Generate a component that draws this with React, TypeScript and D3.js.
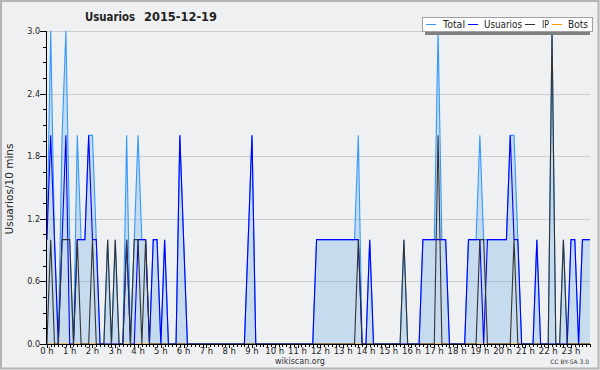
import React from "react";
import * as d3 from "d3";

// 10-minute slots, 0h00 .. 23h50 (144 slots)
const totalValues = [
  1, 3, 1, 0, 2, 3, 1, 0, 2, 1, 1, 2,
  2, 1, 0, 0, 1, 0, 1, 0, 0, 2, 0, 1,
  2, 1, 1, 0, 1, 1, 0, 1, 0, 0, 0, 2,
  1, 0, 0, 0, 0, 0, 0, 0, 0, 0, 0, 0,
  0, 0, 0, 0, 0, 1, 2, 0, 0, 0, 0, 0,
  0, 0, 0, 0, 0, 0, 0, 0, 0, 0, 0, 1,
  1, 1, 1, 1, 1, 1, 1, 1, 1, 1, 2, 0,
  0, 1, 0, 0, 0, 0, 0, 0, 0, 0, 1, 0,
  0, 0, 0, 1, 1, 1, 1, 3, 1, 1, 0, 0,
  0, 0, 0, 1, 1, 1, 2, 1, 1, 1, 1, 1,
  1, 1, 2, 2, 1, 0, 0, 0, 0, 1, 0, 0,
  0, 3, 0, 0, 1, 0, 1, 1, 0, 1, 1, 1,
];

const userValues = [
  1, 2, 1, 0, 1, 2, 0, 0, 1, 1, 1, 2,
  1, 1, 0, 0, 0, 0, 0, 0, 0, 1, 0, 0,
  1, 1, 1, 0, 1, 1, 0, 1, 0, 0, 0, 2,
  1, 0, 0, 0, 0, 0, 0, 0, 0, 0, 0, 0,
  0, 0, 0, 0, 0, 1, 2, 0, 0, 0, 0, 0,
  0, 0, 0, 0, 0, 0, 0, 0, 0, 0, 0, 1,
  1, 1, 1, 1, 1, 1, 1, 1, 1, 1, 1, 0,
  0, 1, 0, 0, 0, 0, 0, 0, 0, 0, 0, 0,
  0, 0, 0, 1, 1, 1, 1, 1, 1, 1, 0, 0,
  0, 0, 0, 1, 1, 1, 1, 0, 1, 1, 1, 1,
  1, 1, 2, 1, 1, 0, 0, 0, 0, 1, 0, 0,
  0, 0, 0, 0, 0, 0, 1, 1, 0, 1, 1, 1,
];

const ipValues = [
  0, 1, 0, 0, 1, 1, 1, 0, 1, 0, 0, 0,
  1, 0, 0, 0, 1, 0, 1, 0, 0, 1, 0, 1,
  1, 0, 1, 0, 0, 0, 0, 0, 0, 0, 0, 0,
  0, 0, 0, 0, 0, 0, 0, 0, 0, 0, 0, 0,
  0, 0, 0, 0, 0, 0, 0, 0, 0, 0, 0, 0,
  0, 0, 0, 0, 0, 0, 0, 0, 0, 0, 0, 0,
  0, 0, 0, 0, 0, 0, 0, 0, 0, 0, 1, 0,
  0, 0, 0, 0, 0, 0, 0, 0, 0, 0, 1, 0,
  0, 0, 0, 0, 0, 0, 0, 2, 0, 0, 0, 0,
  0, 0, 0, 0, 0, 0, 1, 1, 0, 0, 0, 0,
  0, 0, 0, 1, 0, 0, 0, 0, 0, 0, 0, 0,
  0, 3, 0, 0, 1, 0, 0, 0, 0, 0, 0, 0,
];

const botValues = [
  0, 0, 0, 0, 0, 0, 0, 0, 0, 0, 0, 0,
  0, 0, 0, 0, 0, 0, 0, 0, 0, 0, 0, 0,
  0, 0, 0, 0, 0, 0, 0, 0, 0, 0, 0, 0,
  0, 0, 0, 0, 0, 0, 0, 0, 0, 0, 0, 0,
  0, 0, 0, 0, 0, 0, 0, 0, 0, 0, 0, 0,
  0, 0, 0, 0, 0, 0, 0, 0, 0, 0, 0, 0,
  0, 0, 0, 0, 0, 0, 0, 0, 0, 0, 0, 0,
  0, 0, 0, 0, 0, 0, 0, 0, 0, 0, 0, 0,
  0, 0, 0, 0, 0, 0, 0, 0, 0, 0, 0, 0,
  0, 0, 0, 0, 0, 0, 0, 0, 0, 0, 0, 0,
  0, 0, 0, 0, 0, 0, 0, 0, 0, 0, 0, 0,
  0, 0, 0, 0, 0, 0, 0, 0, 0, 0, 0, 0,
];

const hourLabels = [
  "0 h", "1 h", "2 h", "3 h", "4 h", "5 h", "6 h", "7 h", "8 h", "9 h", "10 h", "11 h",
  "12 h", "13 h", "14 h", "15 h", "16 h", "17 h", "18 h", "19 h", "20 h", "21 h", "22 h", "23 h",
];

const yTickValues = [0, 0.6, 1.2, 1.8, 2.4, 3.0];
const yMinorStep = 0.15;

const legendItems = [
  { label: "Total", color: "#3399ff" },
  { label: "Usuarios", color: "#0000ff" },
  { label: "IP", color: "#333333" },
  { label: "Bots", color: "#ff9900" },
];

const W = 600;
const H = 370;
const PL = 46;
const PR = 590;
const PT = 31;
const PB = 344;
const FONT = "'DejaVu Sans', sans-serif";

export default function App() {
  const n = totalValues.length;
  const x = d3.scaleLinear().domain([0, n - 1]).range([PL + 0.9, PR]);
  const y = d3.scaleLinear().domain([0, 3]).range([PB, PT]);

  const line = d3
    .line<number>()
    .x((_, i) => x(i))
    .y((d) => y(d));
  const area = d3
    .area<number>()
    .x((_, i) => x(i))
    .y0(y(0))
    .y1((d) => y(d));

  const minorY = d3.range(0, 3 + 1e-9, yMinorStep);
  const slotTicks = d3.range(0, n);

  const legendX = [426, 468, 525, 552];
  const legendTextX = [443, 484, 542, 568];
  const legendTextW = [22, 38, 7, 20];

  return (
    <svg width={W} height={H} style={{ display: "block" }} fontFamily={FONT}>
      <style>{`body{margin:0;}`}</style>
      <rect x={0} y={0} width={W} height={H} fill="#eff0f1" />
      <rect x={1} y={1} width={W - 2.5} height={H - 2.5} fill="none" stroke="#b4b4b4" strokeWidth={2} />

      {/* title */}
      <text y={21} fontSize={12} fontWeight="bold" fill="#222">
        <tspan x={85} textLength={50} lengthAdjust="spacingAndGlyphs">Usuarios</tspan>
        <tspan x={144} textLength={73} lengthAdjust="spacingAndGlyphs">2015-12-19</tspan>
      </text>

      {/* grid */}
      {yTickValues.slice(1).map((v) => (
        <line key={"g" + v} x1={PL} x2={PR} y1={Math.round(y(v)) + 0.5} y2={Math.round(y(v)) + 0.5} stroke="#cdcdcd" strokeWidth={1} />
      ))}

      {/* series */}
      <path d={area(totalValues) || ""} fill="rgba(40,135,230,0.2)" stroke="none" />
      <path d={line(botValues) || ""} fill="none" stroke="#ff9900" strokeWidth={1.1} />
      <path d={line(totalValues) || ""} fill="none" stroke="#3399ff" strokeWidth={1.1} />
      <path d={line(userValues) || ""} fill="none" stroke="#0000ff" strokeWidth={1.1} />
      <path d={line(ipValues) || ""} fill="none" stroke="#333333" strokeWidth={1.1} />

      {/* axes */}
      <line x1={PL + 0.5} x2={PL + 0.5} y1={PT} y2={PB + 0.5} stroke="#000" />
      <line x1={PL} x2={PR} y1={PB + 0.5} y2={PB + 0.5} stroke="#000" />
      {minorY.map((v) => (
        <line key={"ym" + v} x1={PL - 3} x2={PL} y1={Math.round(y(v)) + 0.5} y2={Math.round(y(v)) + 0.5} stroke="#000" />
      ))}
      {yTickValues.map((v) => (
        <g key={"yt" + v}>
          <line x1={PL - 6} x2={PL} y1={Math.round(y(v)) + 0.5} y2={Math.round(y(v)) + 0.5} stroke="#000" />
          <text x={PL - 6} y={y(v) + 3} fontSize={8} textAnchor="end" fill="#222">
            {v.toFixed(1)}
          </text>
        </g>
      ))}
      {slotTicks.map((i) => {
        const xx = Math.round(x(i)) + 0.5;
        return <line key={"xt" + i} x1={xx} x2={xx} y1={PB} y2={PB + (i % 6 === 0 ? 4 : 3)} stroke="#000" />;
      })}
      {hourLabels.map((h, k) => (
        <text key={h} x={x(k * 6)} y={354} fontSize={8.5} textAnchor="middle" fill="#222">
          {h}
        </text>
      ))}

      {/* y title */}
      <text transform={`translate(13,${189}) rotate(-90)`} fontSize={10.5} textAnchor="middle" fill="#222">
        Usuarios/10 mins
      </text>

      {/* footer */}
      <text x={300} y={364} fontSize={8} textAnchor="middle" fill="#333">
        wikiscan.org
      </text>
      <text x={589} y={364} fontSize={6} textAnchor="end" fill="#333">
        CC BY-SA 3.0
      </text>

      {/* legend */}
      <rect x={425} y={20} width={165} height={15} fill="#808080" />
      <rect x={422.5} y={17.5} width={170} height={14} fill="#ffffff" stroke="#a0a0a0" />
      {legendItems.map((it, k) => (
        <g key={it.label}>
          <line x1={legendX[k]} x2={legendX[k] + 10} y1={24.5} y2={24.5} stroke={it.color} strokeWidth={1} />
          <text x={legendTextX[k]} y={28.3} fontSize={10} fill="#222" textLength={legendTextW[k]} lengthAdjust="spacingAndGlyphs">
            {it.label}
          </text>
        </g>
      ))}
    </svg>
  );
}
